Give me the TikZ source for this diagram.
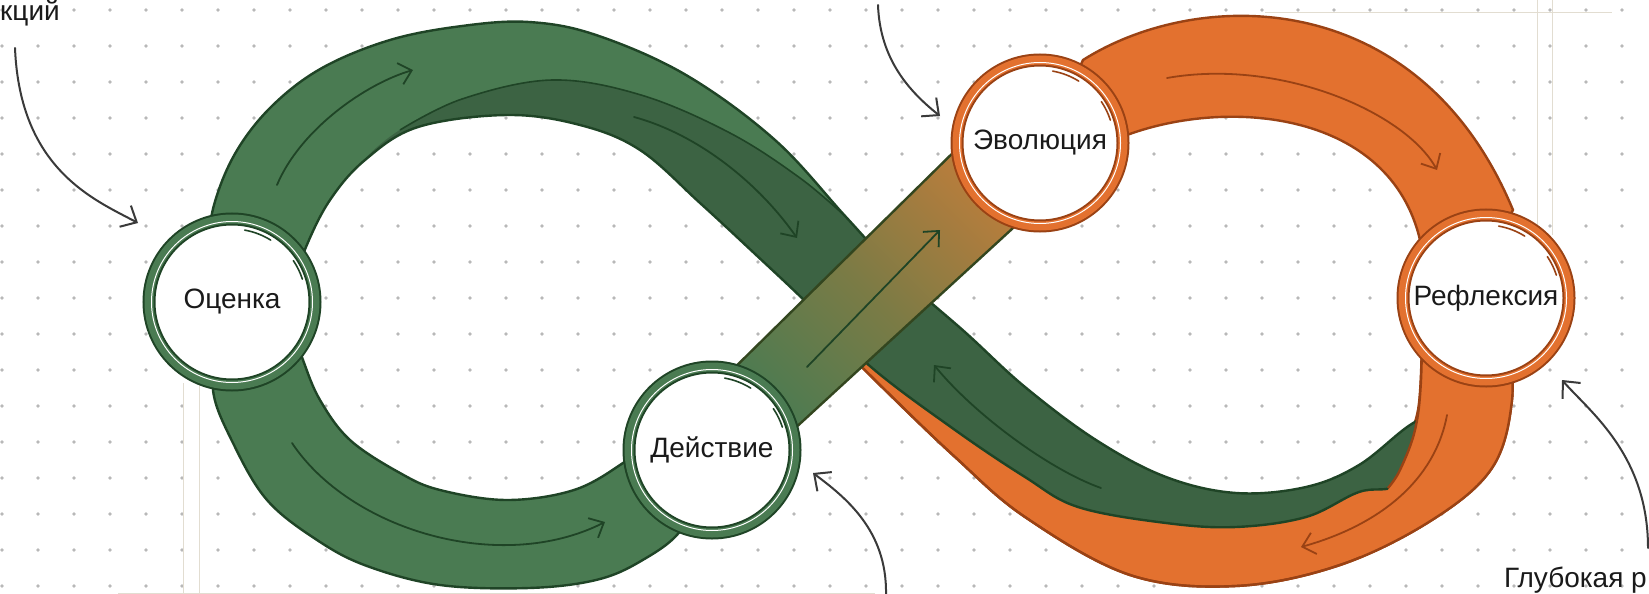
\documentclass[tikz,border=0pt]{standalone}
\usepackage{fontspec}
\setmainfont{Liberation Sans}
\usetikzlibrary{arrows.meta}

\definecolor{bandgreen}{HTML}{4A7B52}
\definecolor{bandgreendark}{HTML}{3C6343}
\definecolor{edgegreen}{HTML}{1F4426}
\definecolor{bandorange}{HTML}{E3712F}
\definecolor{edgeorange}{HTML}{9A4214}
\definecolor{bandolive}{HTML}{B97D3C}
\definecolor{bandmid}{HTML}{7B7B45}
\definecolor{edgeolive}{HTML}{33461F}
\definecolor{dotgray}{HTML}{B8B8B8}
\definecolor{ruleline}{HTML}{E2DDD1}
\definecolor{inkgray}{HTML}{3A3A3A}
\definecolor{textblack}{HTML}{1A1A1A}

\tikzset{
  greenring/.style={circle, minimum size=166pt, inner sep=0pt, fill=white,
    draw=edgegreen, double=bandgreen, double distance=9pt, line width=2pt,
    text=textblack, font=\fontsize{28}{32}\selectfont},
  orangering/.style={greenring, draw=edgeorange, double=bandorange},
  bandedge/.style={line width=2.4pt, line join=round},
  flowgreen/.style={draw=edgegreen, line width=1.8pt, line cap=round,
    -{Straight Barb[length=12pt, width=22pt]}},
  floworange/.style={flowgreen, draw=edgeorange},
  callout/.style={draw=inkgray, line width=2pt, line cap=round,
    -{Straight Barb[length=13pt, width=24pt]}},
  sketchmark/.style={line width=1.6pt, line cap=round},
  notetext/.style={text=textblack, font=\fontsize{28}{32}\selectfont, inner sep=0pt}
}

% outline of the green loop (upper arch, crossing and lower right part)
\newcommand{\archpath}{plot[smooth, tension=0.6] coordinates {(205,262) (214,205) (236,152) (272,106) (322,68) (390,40) (462,26) (529,22) (596,35) (686,75) (775,140) (846,217) (900,275) (966,333) (1025,387) (1096,440) (1166,477) (1236,493) (1306,487) (1359,465) (1410,425) (1450,405)} -- plot[smooth, tension=0.6] coordinates {(1460,445) (1400,485) (1359,492) (1306,517) (1236,527) (1166,523) (1078,507) (1025,477) (955,430) (871,367) (807,303) (754,253) (700,203) (640,150) (580,125) (507,115) (418,127) (365,160) (330,200) (306,247) (292,290)} -- cycle}
% outer edge of the orange band below
\newcommand{\orangeouter}{plot[smooth, tension=0.6] coordinates {(1508,330) (1512,400) (1492,468) (1432,520) (1340,565) (1236,586) (1130,575) (1025,517) (955,457) (885,390) (835,340)}}
\newcommand{\orangepath}{\orangeouter -- plot[smooth, tension=0.6] coordinates {(860,330) (955,400) (1025,440) (1096,475) (1166,500) (1236,510) (1306,502) (1359,477) (1400,445) (1418,410) (1422,330)} -- cycle}

\begin{document}
\begin{tikzpicture}[x=1pt, y=-1pt]
\useasboundingbox (0,0) rectangle (1649,594);
\clip (0,0) rectangle (1649,594);
\fill[white] (0,0) rectangle (1649,594);

% Dot grid
\foreach \i in {0,...,45}
  \foreach \j in {0,...,16}
    \fill[dotgray] (2+36*\i, 10+36*\j) circle (1.8);

% Faint guide lines
\draw[ruleline, line width=1pt] (183,383) -- (183,594);
\draw[ruleline, line width=1pt] (199,383) -- (199,594);
\draw[ruleline, line width=1pt] (118,593) -- (875,593);
\draw[ruleline, line width=1pt] (1265,13) -- (1612,13);
\draw[ruleline, line width=1pt] (1537,0) -- (1537,235);
\draw[ruleline, line width=1pt] (1552,0) -- (1552,235);

% Orange band below: from Рефлексия down and along the bottom
\fill[bandorange] \orangepath;
\draw[edgeorange, bandedge] \orangepath;

% Green loop: dark inner side, light outer side
\fill[bandgreendark] \archpath;
\begin{scope}
  \clip \archpath;
  \fill[bandgreen] (150,300) -- (150,-10) -- (860,-10) -- (860,225) -- plot[smooth, tension=0.6] coordinates {(846,217) (800,178) (730,133) (641,95) (552,80) (462,99) (395,133) (352,175) (330,230) (320,300)} -- cycle;
\end{scope}
\draw[edgegreen, line width=1.6pt] plot[smooth, tension=0.6] coordinates {(846,217) (800,178) (730,133) (641,95) (552,80) (462,99) (400,130)};
\draw[edgegreen, bandedge] \archpath;

% Orange right side laid over the end of the green band
\begin{scope}
  \clip \orangepath;
  \fill[bandorange] plot[smooth, tension=0.6] coordinates {(1422,300) (1421,380) (1415,430) (1400,470) (1380,500) (1360,515)} -- (1360,620) -- (1620,620) -- (1620,300) -- cycle;
\end{scope}
\draw[edgeorange, bandedge] plot[smooth, tension=0.6] coordinates {(1422,300) (1421,380) (1415,430) (1400,470) (1388,488)};
\draw[edgeorange, bandedge] \orangeouter;

% Arrows on the green loop and the orange bottom
\draw[flowgreen] (277,185) .. controls (300,130) and (365,84) .. (413,70);
\draw[flowgreen] (634,117) .. controls (700,135) and (760,185) .. (797,238);
\draw[flowgreen] (1101,488) .. controls (1050,470) and (975,415) .. (934,365);
\draw[floworange] (1447,415) .. controls (1435,480) and (1380,525) .. (1301,547);

% Lower green band: Оценка to Действие
\fill[bandgreen] plot[smooth, tension=0.6] coordinates {(222,340) (213,390) (233,443) (267,500) (317,540) (367,566) (440,585) (529,588) (596,580) (641,561) (681,530) (700,480)} -- plot[smooth, tension=0.6] coordinates {(650,440) (623,463) (574,490) (507,500) (440,490) (400,473) (350,440) (320,400) (303,360) (290,320)} -- cycle;
\draw[edgegreen, bandedge] plot[smooth, tension=0.6] coordinates {(222,340) (213,390) (233,443) (267,500) (317,540) (367,566) (440,585) (529,588) (596,580) (641,561) (681,530) (700,480)} -- plot[smooth, tension=0.6] coordinates {(650,440) (623,463) (574,490) (507,500) (440,490) (400,473) (350,440) (320,400) (303,360) (290,320)} -- cycle;
\draw[flowgreen] (292,443) .. controls (350,530) and (500,575) .. (605,522);

% Crossing band: Действие to Эволюция, green turning orange
\shade[bottom color=bandgreen, top color=bandolive, middle color=bandmid, shading angle=-45] (717,385) -- (970,136) -- (1025,217) -- (767,454) -- cycle;
\draw[edgeolive, bandedge] (717,385) -- (970,136) -- (1025,217) -- (767,454) -- cycle;
\draw[flowgreen] (807,367) -- (940,230);

% Orange upper arch: Эволюция to Рефлексия
\fill[bandorange] (1060,110) -- (1083,60) .. controls (1200,-14) and (1420,-14) .. (1513,210) -- (1490,250) -- (1420,240) .. controls (1390,112) and (1230,97) .. (1127,135) -- cycle;
\draw[edgeorange, bandedge] (1060,110) -- (1083,60) .. controls (1200,-14) and (1420,-14) .. (1513,210) -- (1490,250) -- (1420,240) .. controls (1390,112) and (1230,97) .. (1127,135) -- cycle;
\draw[floworange] (1167,78) .. controls (1280,58) and (1405,112) .. (1437,170);

% Stage circles
\node[greenring] (ocenka) at (232,302) {Оценка};
\node[greenring] (dejstvie) at (712,450) {Действие};
\node[orangering] (evolyuciya) at (1040,143) {Эволюция};
\node[orangering] (refleksiya) at (1486,298) {Рефлексия};

% Highlights and pencil marks on the rings
\foreach \n/\c in {ocenka/edgegreen, dejstvie/edgegreen, evolyuciya/edgeorange, refleksiya/edgeorange} {
  \draw[white, line width=1pt] (\n.center) circle (80.5);
  \draw[sketchmark, draw=\c] ([shift={(-80:73)}]\n.center) arc (-80:-58:73);
  \draw[sketchmark, draw=\c] ([shift={(-34:74)}]\n.center) arc (-34:-18:74);
}

% Side notes with their arrows
\node[notetext, anchor=base west] (notetop) at (0,21) {кций};
\node[notetext, anchor=base east] (notebottom) at (1647,587) {Глубокая р};
\coordinate (calloutA) at (15,48);
\coordinate (tipA) at (138,223);
\coordinate (calloutB) at (878,5);
\coordinate (tipB) at (940,116);
\coordinate (calloutC) at (886,594);
\coordinate (tipC) at (813,473);
\coordinate (calloutD) at (1648,548);
\coordinate (tipD) at (1562,380);
\draw[callout] (calloutA) .. controls (20,170) and (95,200) .. (tipA);
\draw[callout] (calloutB) .. controls (880,60) and (910,92) .. (tipB);
\draw[callout] (calloutC) .. controls (887,530) and (845,497) .. (tipC);
\draw[callout] (calloutD) .. controls (1648,455) and (1590,412) .. (tipD);

\end{tikzpicture}
\end{document}
